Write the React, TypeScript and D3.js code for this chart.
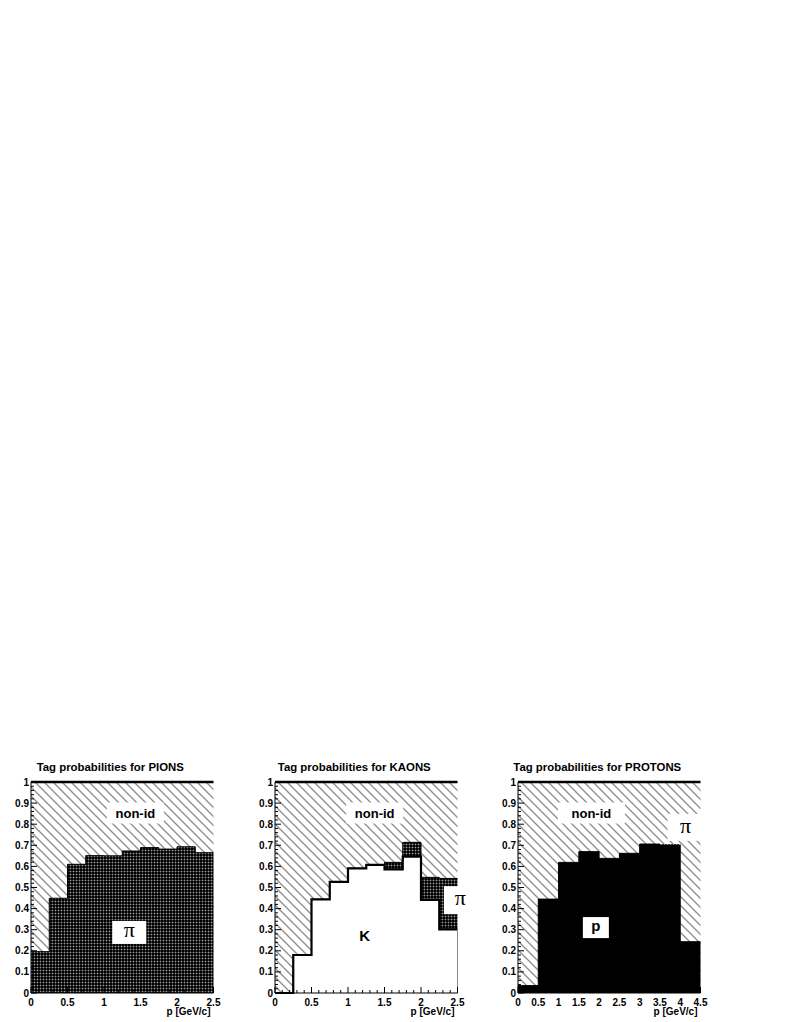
import React from 'react';
import * as d3 from 'd3';

// bin edges (GeV/c)
const pionEdges = [0, 0.25, 0.5, 0.75, 1, 1.25, 1.5, 1.75, 2, 2.25, 2.5];
const kaonEdges = [0, 0.25, 0.5, 0.75, 1, 1.25, 1.5, 1.75, 2, 2.25, 2.5];
const protonEdges = [0, 0.5, 1, 1.5, 2, 2.5, 3, 3.5, 4, 4.5];

// tag probabilities per bin
const pionsPi = [0.196, 0.449, 0.61, 0.651, 0.65, 0.673, 0.689, 0.682, 0.693, 0.665];
const kaonsK = [0, 0.18, 0.444, 0.527, 0.591, 0.607, 0.586, 0.646, 0.441, 0.302];
const kaonsPi = [0, 0, 0, 0, 0, 0, 0.033, 0.068, 0.107, 0.241];
const protonsP = [0.035, 0.445, 0.619, 0.67, 0.638, 0.662, 0.706, 0.702, 0.243];
const protonsPi = [0, 0, 0, 0, 0, 0, 0, 0.004, 0];

const yTicks = [0, 0.1, 0.2, 0.3, 0.4, 0.5, 0.6, 0.7, 0.8, 0.9, 1];
const yTickLabels = ['0', '0.1', '0.2', '0.3', '0.4', '0.5', '0.6', '0.7', '0.8', '0.9', '1'];
const xTicksShort = [0, 0.5, 1, 1.5, 2, 2.5];
const xTicksLong = [0, 0.5, 1, 1.5, 2, 2.5, 3, 3.5, 4, 4.5];

const SANS = "'Liberation Sans', Arial, Helvetica, sans-serif";
const SERIF = "'Liberation Serif', 'Times New Roman', serif";

const Y0 = 993;
const Y1 = 782;
const W = 182.5;

const panels = [
  {
    title: 'Tag probabilities for PIONS',
    left: 31,
    xMax: 2.5,
    edges: pionEdges,
    xTicks: xTicksShort,
    layers: [{ values: pionsPi, fill: 'url(#xhatch)', stroke: '#000', sw: 1 }],
    outline: null,
    labels: [
      { text: 'non-id', x: 1.43, y: 0.853, w: 57, h: 21, dy: 5, font: SANS, size: 13, box: true },
      { text: 'π', x: 1.346, y: 0.287, w: 34, h: 23, dy: 5, font: SERIF, size: 22, box: true, weight: 'normal' },
    ],
  },
  {
    title: 'Tag probabilities for KAONS',
    left: 275,
    xMax: 2.5,
    edges: kaonEdges,
    xTicks: xTicksShort,
    layers: [
      { values: kaonsK, fill: '#fff', stroke: 'none', sw: 0 },
      { values: kaonsPi, fill: 'url(#xhatch)', stroke: '#000', sw: 1 },
    ],
    outline: kaonsK,
    labels: [
      { text: 'non-id', x: 1.366, y: 0.853, w: 57, h: 21, dy: 5, font: SANS, size: 13, box: true },
      { text: 'K', x: 1.23, y: 0.27, w: 0, h: 0, dy: 5, font: SANS, size: 15, box: false },
      { text: 'π', x: 2.54, y: 0.44, w: 33, h: 28, dy: 5, font: SERIF, size: 22, box: true, weight: 'normal' },
    ],
  },
  {
    title: 'Tag probabilities for PROTONS',
    left: 518,
    xMax: 4.5,
    edges: protonEdges,
    xTicks: xTicksLong,
    layers: [
      { values: protonsP, fill: '#000', stroke: '#000', sw: 1 },
      { values: protonsPi, fill: 'url(#xhatch)', stroke: 'none', sw: 0 },
    ],
    outline: null,
    labels: [
      { text: 'non-id', x: 1.81, y: 0.853, w: 67, h: 21, dy: 5, font: SANS, size: 13, box: true },
      { text: 'p', x: 1.92, y: 0.31, w: 26, h: 21, dy: 3, font: SANS, size: 15, box: true },
      { text: 'π', x: 4.13, y: 0.785, w: 36, h: 27, dy: 6, font: SERIF, size: 22, box: true, weight: 'normal' },
    ],
  },
];

function Panel({ cfg }: { cfg: any }) {
  const x = d3.scaleLinear().domain([0, cfg.xMax]).range([cfg.left, cfg.left + W]);
  const y = d3.scaleLinear().domain([0, 1]).range([Y0, Y1]);
  const edges: number[] = cfg.edges;
  const n = edges.length - 1;

  const area = d3
    .area<any>()
    .curve(d3.curveStepAfter)
    .x((d) => x(d.e))
    .y0((d) => y(d.lo))
    .y1((d) => y(d.hi));
  const line = d3
    .line<any>()
    .curve(d3.curveStepAfter)
    .x((d) => x(d.e))
    .y((d) => y(d.v));

  // stack the layers
  let base = new Array(n).fill(0);
  const shapes = cfg.layers.map((layer: any, li: number) => {
    const lo = base.slice();
    const hi = base.map((b: number, i: number) => b + layer.values[i]);
    base = hi;
    const pts = edges.map((e, i) => {
      const k = Math.min(i, n - 1);
      return { e, lo: lo[k], hi: hi[k] };
    });
    const topPts = edges.map((e, i) => ({ e, v: hi[Math.min(i, n - 1)] }));
    return (
      <g key={li}>
        <path d={area(pts) || ''} fill={layer.fill} />
        {layer.stroke !== 'none' && (
          <path d={line(topPts) || ''} fill="none" stroke={layer.stroke} strokeWidth={layer.sw} />
        )}
      </g>
    );
  });

  const minorX = d3.range(0, Math.round(cfg.xMax * 10) + 1).map((i) => i / 10);
  const minorY = d3.range(0, 51).map((i) => i / 50);

  let outlinePath = null;
  if (cfg.outline) {
    const pts = edges.map((e, i) => ({ e, v: cfg.outline[Math.min(i, n - 1)] }));
    const last = cfg.outline[n - 1];
    outlinePath = (
      <g>
        <path d={line(pts) || ''} fill="none" stroke="#000" strokeWidth={2.2} />
        <line x1={x(cfg.xMax)} x2={x(cfg.xMax)} y1={y(last)} y2={y(0)} stroke="#888" strokeWidth={1} />
      </g>
    );
  }

  return (
    <g>
      <text
        x={cfg.left + W / 2 - 12}
        y={771}
        textAnchor="middle"
        fontFamily={SANS}
        fontWeight="bold"
        fontSize={11.4}
      >
        {cfg.title}
      </text>
      {/* non-id region */}
      <rect x={x(0)} y={y(1)} width={x(cfg.xMax) - x(0)} height={y(0) - y(1)} fill="url(#dhatch)" />
      {shapes}
      {outlinePath}
      {cfg.labels.map((l: any, i: number) => (
        <g key={i}>
          {l.box && <rect x={x(l.x) - l.w / 2} y={y(l.y) - l.h / 2} width={l.w} height={l.h} fill="#fff" />}
          <text
            x={x(l.x)}
            y={y(l.y) + l.dy}
            textAnchor="middle"
            fontFamily={l.font}
            fontWeight={l.weight || 'bold'}
            fontSize={l.size}
          >
            {l.text}
          </text>
        </g>
      ))}
      {/* frame */}
      <line x1={x(0)} x2={x(cfg.xMax)} y1={y(1)} y2={y(1)} stroke="#000" strokeWidth={2.5} />
      <line x1={x(0)} x2={x(0)} y1={y(0)} y2={y(1)} stroke="#000" strokeWidth={1} />
      <line x1={x(0)} x2={x(cfg.xMax)} y1={y(0)} y2={y(0)} stroke="#000" strokeWidth={1} />
      {minorY.map((v, i) => (
        <line
          key={'my' + i}
          x1={x(0)}
          x2={x(0) + (i % 5 === 0 ? 6 : 3)}
          y1={y(v)}
          y2={y(v)}
          stroke="#000"
          strokeWidth={1}
        />
      ))}
      {minorX.map((v, i) => (
        <line
          key={'mx' + i}
          x1={x(v)}
          x2={x(v)}
          y1={y(0)}
          y2={y(0) - (i % 5 === 0 ? 6 : 3)}
          stroke="#000"
          strokeWidth={1}
        />
      ))}
      {yTicks.map((v, i) => (
        <text
          key={'yl' + i}
          x={x(0) - 2}
          y={y(v) + 3.5}
          textAnchor="end"
          fontFamily={SANS}
          fontWeight="bold"
          fontSize={10}
        >
          {yTickLabels[i]}
        </text>
      ))}
      {cfg.xTicks.map((v: number, i: number) => (
        <text
          key={'xl' + i}
          x={x(v)}
          y={1006}
          textAnchor="middle"
          fontFamily={SANS}
          fontWeight="bold"
          fontSize={10}
        >
          {String(v)}
        </text>
      ))}
      <text x={x(cfg.xMax) - 3} y={1015} textAnchor="end" fontFamily={SANS} fontWeight="bold" fontSize={10}>
        p [GeV/c]
      </text>
    </g>
  );
}

export default function App() {
  return (
    <svg
      width={790}
      height={1022}
      style={{ position: 'absolute', left: 0, top: 0, background: '#fff' }}
    >
      <defs>
        <pattern id="dhatch" patternUnits="userSpaceOnUse" width={9} height={9}>
          <rect width={9} height={9} fill="#fff" />
          <path d="M-2,-2 L11,11 M-2,7 L2,11 M7,-2 L11,2" stroke="#8c8c8c" strokeWidth={1.3} />
        </pattern>
        <pattern id="xhatch" patternUnits="userSpaceOnUse" width={3} height={3}>
          <rect width={3} height={3} fill="#000" />
          <rect x={1} y={0} width={1} height={3} fill="#333" />
          <rect x={0} y={1} width={3} height={1} fill="#333" />
          <rect x={1} y={1} width={1} height={1} fill="#999" />
        </pattern>
      </defs>
      {panels.map((p, i) => (
        <Panel key={i} cfg={p} />
      ))}
    </svg>
  );
}
